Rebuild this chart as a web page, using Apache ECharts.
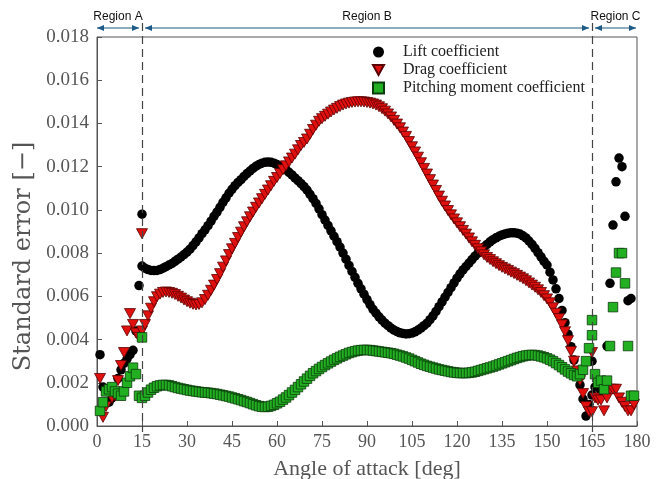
<!DOCTYPE html>
<html>
<head>
<meta charset="utf-8">
<script src="https://cdn.jsdelivr.net/npm/echarts@6/dist/echarts.min.js"></script>
<style>
    html, body { margin: 0; padding: 0; background: #fff; }
    #chart { width: 665px; height: 479px; }
</style>
</head>
<body>
<div id="chart"></div>
<script>
// Region A: 1..15 deg
const anglesA = [1, 2, 3, 4, 5, 6, 7, 8, 9, 10, 11, 12, 13, 14, 15];
const liftA = [0.0033, 0.0018, 0.0016, 0.0011, 0.0013, 0.0016, 0.0022, 0.0026, 0.0029, 0.0031, 0.0033, 0.0035, 0.0044, 0.0065, 0.0098];
const dragA = [0.0022, 0.0004, 0.0009, 0.0016, 0.0013, 0.0014, 0.0021, 0.0028, 0.0034, 0.0044, 0.0052, 0.0047, 0.0043, 0.0041, 0.0089];
const pitchA = [0.0007, 0.0011, 0.0016, 0.0017, 0.0018, 0.0016, 0.0015, 0.0014, 0.0016, 0.0020, 0.0023, 0.0027, 0.0024, 0.0014, 0.0041];

// Region B: 15..165 deg, one point per degree
const anglesB = [];
for (let a = 15; a <= 165; a++) anglesB.push(a);
const liftB = [
    0.00740, 0.00730, 0.00724, 0.00720, 0.00719, 0.00720, 0.00724, 0.00730, 0.00737, 0.00745,
    0.00752, 0.00762, 0.00772, 0.00782, 0.00793, 0.00805, 0.00818, 0.00835, 0.00852, 0.00870,
    0.00890, 0.00908, 0.00927, 0.00948, 0.00970, 0.00990, 0.01012, 0.01035, 0.01056, 0.01077,
    0.01095, 0.01112, 0.01127, 0.01140, 0.01155, 0.01168, 0.01180, 0.01192, 0.01202, 0.01210,
    0.01216, 0.01220, 0.01222, 0.01220, 0.01216, 0.01210, 0.01202, 0.01194, 0.01185, 0.01174,
    0.01162, 0.01148, 0.01135, 0.01122, 0.01108, 0.01092, 0.01072, 0.01052, 0.01030, 0.01005,
    0.00978, 0.00953, 0.00928, 0.00903, 0.00878, 0.00853, 0.00828, 0.00800, 0.00772, 0.00743,
    0.00715, 0.00688, 0.00660, 0.00635, 0.00610, 0.00585, 0.00562, 0.00540, 0.00522, 0.00505,
    0.00490, 0.00476, 0.00464, 0.00453, 0.00444, 0.00437, 0.00431, 0.00428, 0.00426, 0.00427,
    0.00430, 0.00436, 0.00444, 0.00453, 0.00464, 0.00476, 0.00492, 0.00510, 0.00530, 0.00552,
    0.00574, 0.00596, 0.00618, 0.00640, 0.00662, 0.00684, 0.00704, 0.00722, 0.00738, 0.00754,
    0.00770, 0.00786, 0.00800, 0.00814, 0.00828, 0.00840, 0.00852, 0.00862, 0.00871, 0.00878,
    0.00884, 0.00889, 0.00892, 0.00894, 0.00894, 0.00892, 0.00888, 0.00880, 0.00870, 0.00856,
    0.00840, 0.00822, 0.00802, 0.00783, 0.00762, 0.00745, 0.00712, 0.00676, 0.00635, 0.00590,
    0.00535, 0.00478, 0.00425, 0.00367, 0.00305, 0.00245, 0.00190, 0.00125, 0.00046, 0.00100,
    0.00143
];
const dragB = [
    0.00440, 0.00470, 0.00510, 0.00545, 0.00575, 0.00598, 0.00610, 0.00618, 0.00620, 0.00618,
    0.00614, 0.00608, 0.00600, 0.00592, 0.00583, 0.00575, 0.00568, 0.00563, 0.00560, 0.00562,
    0.00570, 0.00585, 0.00605, 0.00628, 0.00652, 0.00678, 0.00705, 0.00735, 0.00764, 0.00793,
    0.00820, 0.00845, 0.00872, 0.00897, 0.00922, 0.00945, 0.00968, 0.00990, 0.01012, 0.01032,
    0.01052, 0.01072, 0.01092, 0.01112, 0.01132, 0.01150, 0.01168, 0.01186, 0.01204, 0.01222,
    0.01240, 0.01258, 0.01278, 0.01298, 0.01312, 0.01328, 0.01350, 0.01372, 0.01392, 0.01410,
    0.01422, 0.01433, 0.01443, 0.01453, 0.01462, 0.01470, 0.01478, 0.01485, 0.01490, 0.01494,
    0.01497, 0.01499, 0.01500, 0.01500, 0.01499, 0.01497, 0.01494, 0.01490, 0.01485, 0.01477,
    0.01468, 0.01457, 0.01444, 0.01430, 0.01414, 0.01397, 0.01380, 0.01360, 0.01340, 0.01316,
    0.01292, 0.01268, 0.01244, 0.01218, 0.01192, 0.01166, 0.01140, 0.01115, 0.01090, 0.01064,
    0.01040, 0.01018, 0.00997, 0.00977, 0.00958, 0.00940, 0.00922, 0.00905, 0.00888, 0.00870,
    0.00852, 0.00836, 0.00820, 0.00806, 0.00792, 0.00780, 0.00770, 0.00760, 0.00751, 0.00742,
    0.00734, 0.00727, 0.00720, 0.00712, 0.00705, 0.00697, 0.00689, 0.00681, 0.00672, 0.00662,
    0.00652, 0.00642, 0.00630, 0.00618, 0.00603, 0.00588, 0.00570, 0.00547, 0.00522, 0.00497,
    0.00468, 0.00436, 0.00395, 0.00345, 0.00300, 0.00255, 0.00210, 0.00150, 0.00090, 0.00066,
    0.00066
];
const pitchB = [
    0.00130, 0.00140, 0.00155, 0.00168, 0.00177, 0.00184, 0.00188, 0.00190, 0.00190, 0.00188,
    0.00184, 0.00180, 0.00176, 0.00173, 0.00170, 0.00167, 0.00164, 0.00162, 0.00160, 0.00158,
    0.00156, 0.00155, 0.00154, 0.00152, 0.00150, 0.00148, 0.00145, 0.00142, 0.00139, 0.00136,
    0.00132, 0.00128, 0.00124, 0.00120, 0.00115, 0.00111, 0.00106, 0.00101, 0.00096, 0.00092,
    0.00089, 0.00088, 0.00089, 0.00093, 0.00098, 0.00105, 0.00112, 0.00122, 0.00132, 0.00143,
    0.00155, 0.00167, 0.00180, 0.00193, 0.00206, 0.00219, 0.00232, 0.00244, 0.00254, 0.00264,
    0.00273, 0.00282, 0.00290, 0.00298, 0.00306, 0.00313, 0.00320, 0.00326, 0.00332, 0.00338,
    0.00342, 0.00346, 0.00349, 0.00351, 0.00352, 0.00352, 0.00351, 0.00349, 0.00347, 0.00345,
    0.00343, 0.00341, 0.00339, 0.00337, 0.00334, 0.00330, 0.00326, 0.00322, 0.00317, 0.00312,
    0.00306, 0.00300, 0.00294, 0.00288, 0.00283, 0.00278, 0.00274, 0.00270, 0.00266, 0.00262,
    0.00259, 0.00256, 0.00253, 0.00250, 0.00248, 0.00246, 0.00245, 0.00245, 0.00245, 0.00246,
    0.00248, 0.00251, 0.00255, 0.00259, 0.00263, 0.00267, 0.00271, 0.00275, 0.00280, 0.00285,
    0.00290, 0.00295, 0.00300, 0.00305, 0.00310, 0.00315, 0.00319, 0.00323, 0.00326, 0.00328,
    0.00329, 0.00328, 0.00326, 0.00322, 0.00318, 0.00313, 0.00307, 0.00300, 0.00291, 0.00282,
    0.00272, 0.00262, 0.00252, 0.00244, 0.00236, 0.00230, 0.00240, 0.00260, 0.00300, 0.00360,
    0.00420
];

// Region C: 165..179 deg
const anglesC = [165, 166, 167, 168, 169, 170, 171, 172, 173, 174, 175, 176, 177, 178, 179];
const liftC = [0.0030, 0.0018, 0.0013, 0.0016, 0.0021, 0.0037, 0.0066, 0.0093, 0.0113, 0.0124, 0.0120, 0.0097, 0.0058, 0.0059, 0.0012];
const dragC = [0.0034, 0.0013, 0.0012, 0.0012, 0.0007, 0.0013, 0.0017, 0.0017, 0.0017, 0.0013, 0.0011, 0.0009, 0.0007, 0.0007, 0.0010];
const pitchC = [0.0049, 0.0024, 0.0020, 0.0021, 0.0017, 0.0021, 0.0037, 0.0055, 0.0071, 0.0080, 0.0080, 0.0066, 0.0037, 0.0014, 0.0014];

const regions = [
    { name: "Region A", from: 0, to: 15 },
    { name: "Region B", from: 15, to: 165 },
    { name: "Region C", from: 165, to: 180 },
];
const boundaries = [15, 165];

const seriesNames = ["Lift coefficient", "Drag coefficient", "Pitching moment coefficient"];
const serif = "Liberation Serif";
const triDown = "path://M0,0L10,0L5,9Z";

const pairs = (xs, ys) => xs.map((x, i) => [x, ys[i]]);
const join = (a, b, c) => [...pairs(anglesA, a), ...pairs(anglesB, b), ...pairs(anglesC, c)];

const chart = echarts.init(document.getElementById("chart"), null, { renderer: "canvas" });

chart.setOption({
    animation: false,
    backgroundColor: "#fff",
    grid: {
        left: 97,
        right: 28,
        top: 37,
        bottom: 53,
        outerBoundsMode: "none",
        show: true,
        borderColor: "#555",
        borderWidth: 1,
    },
    legend: {
        orient: "vertical",
        left: 372,
        top: 44,
        padding: 0,
        itemWidth: 11,
        itemHeight: 11,
        itemGap: 2,
        textStyle: { fontFamily: serif, fontSize: 16, lineHeight: 16, color: "#222", padding: [0, 0, 0, 14] },
        data: [
            { name: seriesNames[0], icon: "circle" },
            { name: seriesNames[1], icon: triDown },
            { name: seriesNames[2], icon: "rect" },
        ],
    },
    xAxis: {
        type: "value",
        min: 0,
        max: 180,
        interval: 15,
        name: "Angle of attack [deg]",
        nameLocation: "middle",
        nameGap: 32,
        nameTextStyle: { fontFamily: serif, fontSize: 22, color: "#555" },
        axisLine: { lineStyle: { color: "#555", width: 1 } },
        axisTick: { inside: true, length: 5, lineStyle: { color: "#555" } },
        axisLabel: { fontFamily: serif, fontSize: 18, color: "#555", margin: 7 },
        splitLine: { show: false },
    },
    yAxis: {
        type: "value",
        min: 0,
        max: 0.018,
        interval: 0.002,
        name: "Standard error [\u2212]",
        nameLocation: "middle",
        nameGap: 60,
        nameTextStyle: { fontFamily: "DejaVu Serif", fontSize: 24, color: "#555", padding: [0, 50, 0, 0] },
        axisLine: { lineStyle: { color: "#555", width: 1 } },
        axisTick: { inside: true, length: 5, lineStyle: { color: "#555" } },
        axisLabel: { fontFamily: serif, fontSize: 19, color: "#555", margin: 8, formatter: (v) => v.toFixed(3) },
        splitLine: { show: false },
    },
    series: [
        {
            name: seriesNames[0],
            type: "scatter",
            symbol: "circle",
            symbolSize: 9.5,
            itemStyle: { color: "#000", opacity: 1 },
            data: join(liftA, liftB, liftC),
        },
        {
            name: seriesNames[1],
            type: "scatter",
            symbol: triDown,
            symbolSize: [11, 10],
            itemStyle: { color: "#e0100e", borderColor: "#5a0000", borderWidth: 0.8, opacity: 1 },
            data: join(dragA, dragB, dragC),
        },
        {
            name: seriesNames[2],
            type: "scatter",
            symbol: "rect",
            symbolSize: 9.5,
            itemStyle: { color: "#22b022", borderColor: "#0b3b0b", borderWidth: 0.8, opacity: 1 },
            data: join(pitchA, pitchB, pitchC),
        },
    ],
});

// region boundaries and arrows, placed through the axis scales
const px = (x, y) => chart.convertToPixel({ gridIndex: 0 }, [x, y]);
const yTop = px(0, 0.018)[1];
const yBot = px(0, 0)[1];
const arrowY = yTop - 9;
const arrowColor = "#1d5a86";
const graphics = [];

boundaries.forEach((b) => {
    const x = Math.round(px(b, 0)[0]) + 0.5;
    graphics.push({
        type: "line",
        shape: { x1: x, y1: yTop - 14, x2: x, y2: yBot + 6 },
        style: { stroke: "#444", lineWidth: 1.2, lineDash: [8, 5] },
        z: 10,
    });
});

const head = (x, y, dir) => ({
    type: "polygon",
    shape: { points: [[x, y], [x - dir * 7, y - 3], [x - dir * 7, y + 3]] },
    style: { fill: arrowColor },
    z: 10,
});

regions.forEach((r) => {
    const x1 = px(r.from, 0)[0] + (r.from === 0 ? 0 : 3);
    const x2 = px(r.to, 0)[0] - (r.to === 180 ? 1 : 3);
    graphics.push({
        type: "line",
        shape: { x1: x1, y1: arrowY, x2: x2, y2: arrowY },
        style: { stroke: arrowColor, lineWidth: 1.2 },
        z: 10,
    });
    graphics.push(head(x1, arrowY, -1));
    graphics.push(head(x2, arrowY, 1));
    graphics.push({
        type: "text",
        x: (x1 + x2) / 2,
        y: arrowY - 11,
        style: {
            text: r.name,
            fontFamily: "Liberation Sans",
            fontSize: 12,
            fill: "#111",
            align: "center",
            verticalAlign: "middle",
        },
        z: 10,
    });
});

chart.setOption({ graphic: graphics });
</script>
</body>
</html>
